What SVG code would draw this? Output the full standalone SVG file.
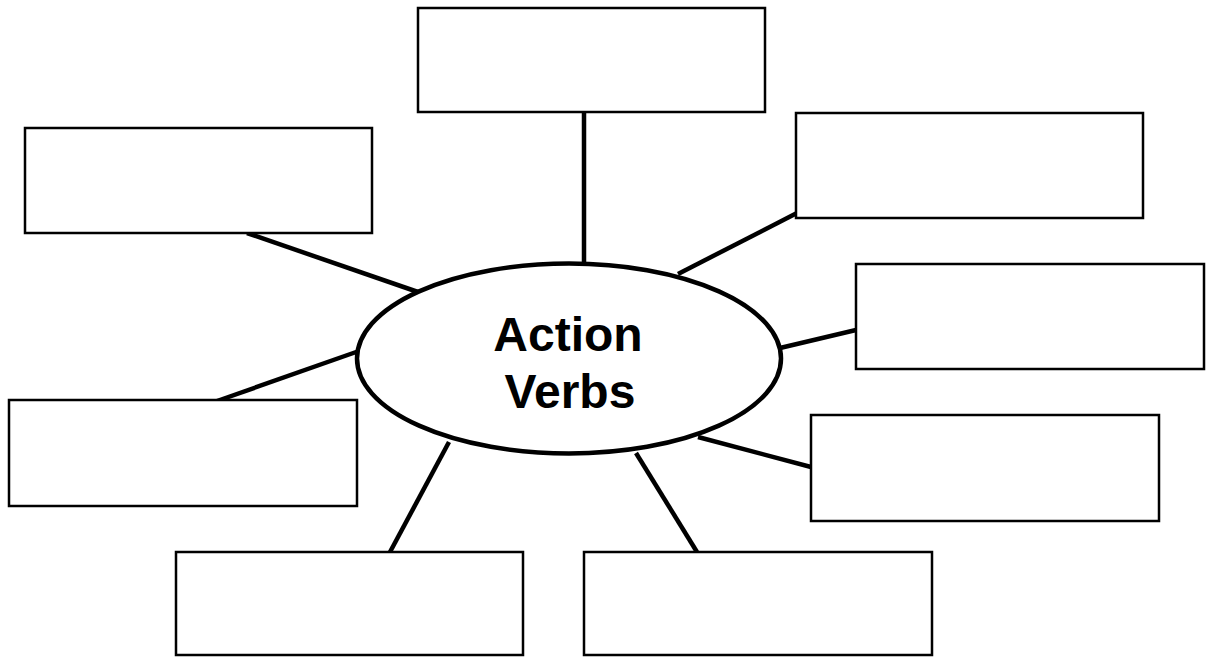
<svg xmlns="http://www.w3.org/2000/svg" width="1212" height="657" viewBox="0 0 1212 657">
<style>
.box{fill:#fff;stroke:#000;stroke-width:2.5}
.link{stroke:#000;stroke-width:4.5;stroke-linecap:butt;fill:none}
.hub{fill:#fff;stroke:#000;stroke-width:4.5}
.lbl{font-family:"Liberation Sans",Arial,sans-serif;font-weight:bold;font-size:48px;fill:#000;text-anchor:middle}
</style>
<rect width="1212" height="657" fill="#fff"/>
<g id="connectors">
<line class="link" x1="584" y1="113" x2="584" y2="264"/>
<line class="link" x1="247" y1="233" x2="418" y2="292"/>
<line class="link" x1="797" y1="213" x2="678" y2="274"/>
<line class="link" x1="856" y1="330" x2="780" y2="348"/>
<line class="link" x1="217" y1="401" x2="359" y2="351"/>
<line class="link" x1="811" y1="467" x2="698" y2="437"/>
<line class="link" x1="390" y1="552" x2="449" y2="442"/>
<line class="link" x1="697" y1="552" x2="636" y2="453"/>
</g>
<g id="node-top"><rect class="box" x="418" y="8" width="347" height="104"/></g>
<g id="node-upper-left"><rect class="box" x="25" y="128" width="347" height="105"/></g>
<g id="node-upper-right"><rect class="box" x="796" y="113" width="347" height="105"/></g>
<g id="node-mid-right"><rect class="box" x="856" y="264" width="348" height="105"/></g>
<g id="node-mid-left"><rect class="box" x="9" y="400" width="348" height="106"/></g>
<g id="node-lower-right"><rect class="box" x="811" y="415" width="348" height="106"/></g>
<g id="node-bottom-left"><rect class="box" x="176" y="552" width="347" height="103"/></g>
<g id="node-bottom-right"><rect class="box" x="584" y="552" width="348" height="103"/></g>
<g id="node-center">
<ellipse class="hub" cx="569" cy="358.5" rx="212" ry="95"/>
<text class="lbl" x="568" y="351">Action</text>
<text class="lbl" x="570" y="408">Verbs</text>
</g>
</svg>
